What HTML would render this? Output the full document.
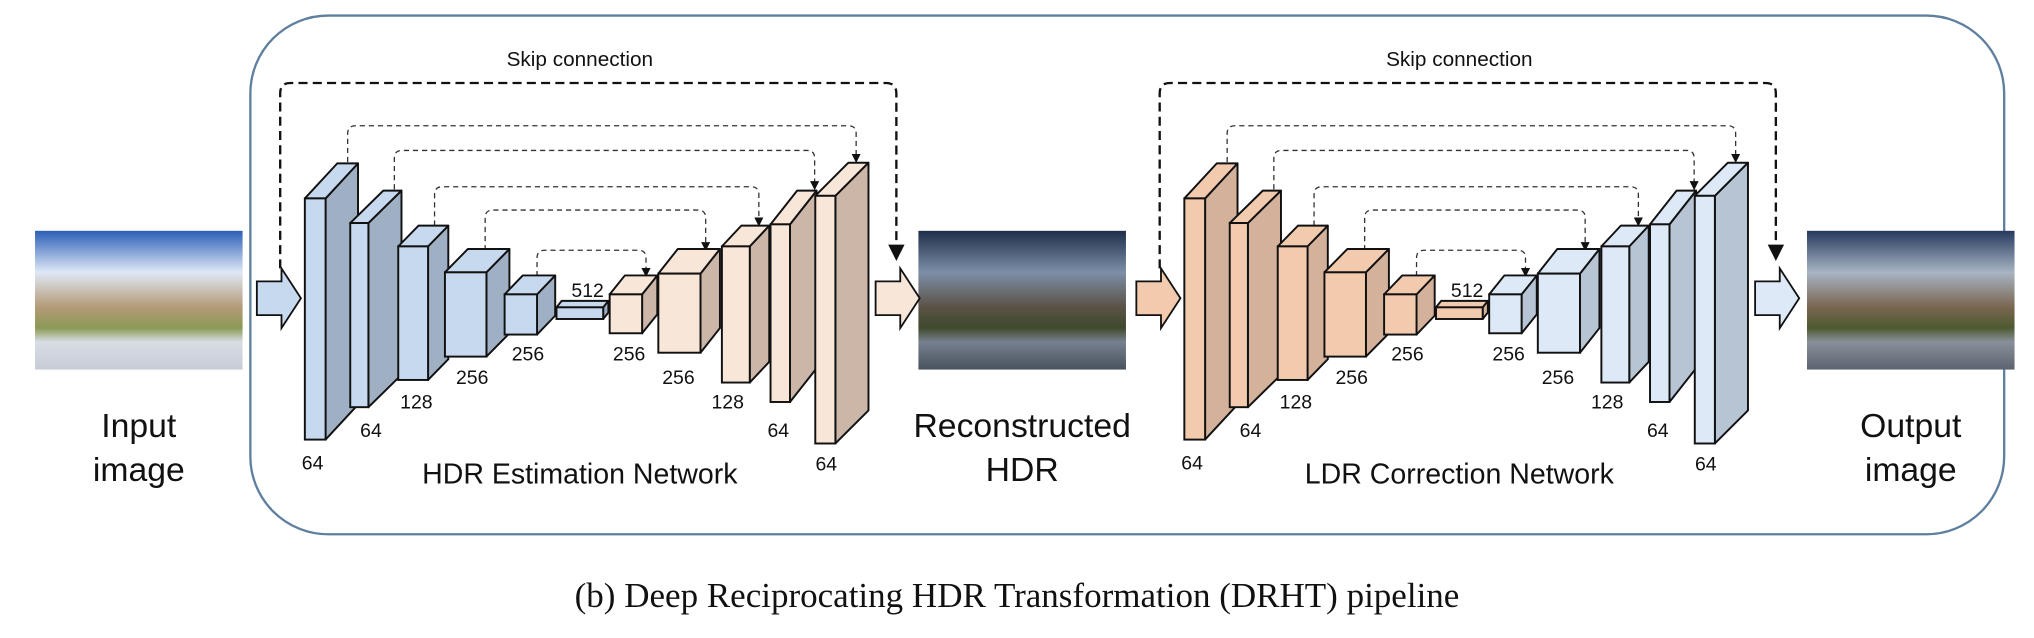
<!DOCTYPE html>
<html><head><meta charset="utf-8"><style>
html,body{margin:0;padding:0;background:#fff;}
svg{display:block;}
text{font-family:"Liberation Sans","DejaVu Sans",sans-serif;fill:#111;}
</style></head><body>
<svg id="fig" width="2034" height="638" viewBox="0 0 1568 492" preserveAspectRatio="none" xmlns="http://www.w3.org/2000/svg">
<defs>
<linearGradient id="sky1" x1="0" y1="0" x2="0" y2="1">
<stop offset="0" stop-color="#2b5fb8"/><stop offset="0.3" stop-color="#dfe8f5"/><stop offset="0.55" stop-color="#b59a78"/><stop offset="0.7" stop-color="#8a9a55"/><stop offset="0.8" stop-color="#d8dce4"/><stop offset="1" stop-color="#c7ccd6"/>
</linearGradient>
<linearGradient id="sky2" x1="0" y1="0" x2="0" y2="1">
<stop offset="0" stop-color="#1f2e4a"/><stop offset="0.3" stop-color="#7d8fa8"/><stop offset="0.55" stop-color="#5b5246"/><stop offset="0.7" stop-color="#3f4a2c"/><stop offset="0.8" stop-color="#77808e"/><stop offset="1" stop-color="#4a5260"/>
</linearGradient>
<linearGradient id="sky3" x1="0" y1="0" x2="0" y2="1">
<stop offset="0" stop-color="#263a5e"/><stop offset="0.3" stop-color="#a8b4c4"/><stop offset="0.55" stop-color="#7a6650"/><stop offset="0.7" stop-color="#4c5a30"/><stop offset="0.8" stop-color="#8a909a"/><stop offset="1" stop-color="#5c6370"/>
</linearGradient>
<marker id="ah" viewBox="0 0 10 10" refX="9" refY="5" markerWidth="7" markerHeight="7" orient="auto"><path d="M0,0 L10,5 L0,10 z" fill="#111"/></marker>
</defs>
<rect x="193" y="12" width="1352" height="400" rx="60" ry="60" fill="none" stroke="#5f7f9e" stroke-width="1.8"/>
<rect x="27" y="178" width="160" height="107" fill="url(#sky1)"/>
<rect x="708" y="178" width="160" height="107" fill="url(#sky2)"/>
<rect x="1393" y="178" width="160" height="107" fill="url(#sky3)"/>
<text x="107" y="337" font-size="26" text-anchor="middle">Input</text>
<text x="107" y="371" font-size="26" text-anchor="middle">image</text>
<text x="788" y="337" font-size="26" text-anchor="middle">Reconstructed</text>
<text x="788" y="371" font-size="26" text-anchor="middle">HDR</text>
<text x="1473" y="337" font-size="26" text-anchor="middle">Output</text>
<text x="1473" y="371" font-size="26" text-anchor="middle">image</text>
<text x="784" y="468" font-size="27" text-anchor="middle" style="font-family:'Liberation Serif',serif">(b) Deep Reciprocating HDR Transformation (DRHT) pipeline</text>
<g id="nets"></g>
</svg>
<script>
// block front geometry (x, y, w, h) and depth (dx, dy) for one network
const blockX = [235,270,307,343,389,429,470,507.5,556.5,594,628.5];
const blockY = [153,172,190,210,227,237,227,211,190,173,151];
const blockW = [16,14,23,32,25,36,25,32.5,21.5,15,15.5];
const blockH = [186,142,103,65,31,9,30,61,105,137,191];
const blockDX = [25,25.5,15.6,17.7,14,4,11.7,15,15,20.5,25.5];
const blockDY = [-27,-25,-16,-18,-14.6,-5,-14.6,-19,-16,-26,-25.5];
const channelLabels = ['64','64','128','256','256','512','256','256','128','64','64'];
const labelX = [241,286,321,364,407,453,485,523,561,600,637];
const labelY = [362,337,315,296,278,229,278,296,315,337,363];
// skip connections: start x, end x, top y, bottom start y, bottom end y
const skipA = [268,304,335,374,414];
const skipB = [660,628,585,544,498];
const skipTop = [97,116,144,162,193];
const skipY0 = [125,146,174,193,213];
const skipY1 = [125,146,174,193,213];
const nets = [
  {dx:0, title:'HDR Estimation Network', c1:['#c6d9ee','#9fb0c4','#c6d9ee'], c2:['#f8e6d8','#cbb6a8','#f8e6d8'], arrIn:'#c6d9ee', arrOut:'#f8e6d8'},
  {dx:678, title:'LDR Correction Network', c1:['#f2cbae','#d4b19a','#f2cbae'], c2:['#dde9f6','#b7c4d4','#dde9f6'], arrIn:'#f2cbae', arrOut:'#dde9f6'}
];
const NS='http://www.w3.org/2000/svg';
const g=document.getElementById('nets');
function mk(tag,attrs){const e=document.createElementNS(NS,tag);for(const k in attrs)e.setAttribute(k,attrs[k]);g.appendChild(e);return e;}
function arrow(x,fill){
  const p=`M${x},217 L${x+19},217 L${x+19},207 L${x+34},230 L${x+19},253 L${x+19},243 L${x},243 Z`;
  return mk('path',{d:p,fill:fill,stroke:'#111','stroke-width':1.4});
}
nets.forEach((n,ni)=>{
  const o=n.dx;
  const a1=arrow(198+o,n.arrIn);
  
  
  const a2=arrow(675+o,n.arrOut);
  
  
  const big=mk('path',{d:`M${216+o},207 L${216+o},72 Q${216+o},64 ${224+o},64 L${683+o},64 Q${691+o},64 ${691+o},72 L${691+o},200`,fill:'none',stroke:'#111','stroke-width':1.8,'stroke-dasharray':'7,4','marker-end':'url(#ah)'});
  
  
  const st=mk('text',{x:447+o,y:51,'font-size':16,'text-anchor':'middle'});
  st.textContent='Skip connection';
  
  
  for(let i=0;i<skipA.length;i++){
    const xa=skipA[i]+o, xb=skipB[i]+o, t=skipTop[i];
    const s=mk('path',{d:`M${xa},${skipY0[i]} L${xa},${t+6} Q${xa},${t} ${xa+6},${t} L${xb-6},${t} Q${xb},${t} ${xb},${t+6} L${xb},${skipY1[i]}`,fill:'none',stroke:'#333','stroke-width':1,'stroke-dasharray':'4,3','marker-end':'url(#ah)'});
    
    
  }
  for(let i=0;i<blockX.length;i++){
    const c = i<6 ? n.c1 : n.c2;
    const x=blockX[i]+o,y=blockY[i],w=blockW[i],h=blockH[i],dx=blockDX[i],dy=blockDY[i];
    const bg=document.createElementNS(NS,'g');g.appendChild(bg);
    
    
    const side=document.createElementNS(NS,'polygon');
    side.setAttribute('points',`${x+w},${y} ${x+w+dx},${y+dy} ${x+w+dx},${y+h+dy} ${x+w},${y+h}`);
    side.setAttribute('fill',c[1]);side.setAttribute('stroke','#111');side.setAttribute('stroke-width',1.5);side.setAttribute('stroke-linejoin','round');
    bg.appendChild(side);
    const top=document.createElementNS(NS,'polygon');
    top.setAttribute('points',`${x},${y} ${x+dx},${y+dy} ${x+w+dx},${y+dy} ${x+w},${y}`);
    top.setAttribute('fill',c[2]);top.setAttribute('stroke','#111');top.setAttribute('stroke-width',1.5);top.setAttribute('stroke-linejoin','round');
    bg.appendChild(top);
    const fr=document.createElementNS(NS,'rect');
    fr.setAttribute('x',x);fr.setAttribute('y',y);fr.setAttribute('width',w);fr.setAttribute('height',h);
    fr.setAttribute('fill',c[0]);fr.setAttribute('stroke','#111');fr.setAttribute('stroke-width',1.5);
    bg.appendChild(fr);
    const lt=mk('text',{x:labelX[i]+o,y:labelY[i],'font-size':15,'text-anchor':'middle'});
    lt.textContent=channelLabels[i];
    
    
  }
  const tt=mk('text',{x:447+o,y:373,'font-size':22,'text-anchor':'middle'});
  tt.textContent=n.title;
  
  
});
</script>
</body></html>
